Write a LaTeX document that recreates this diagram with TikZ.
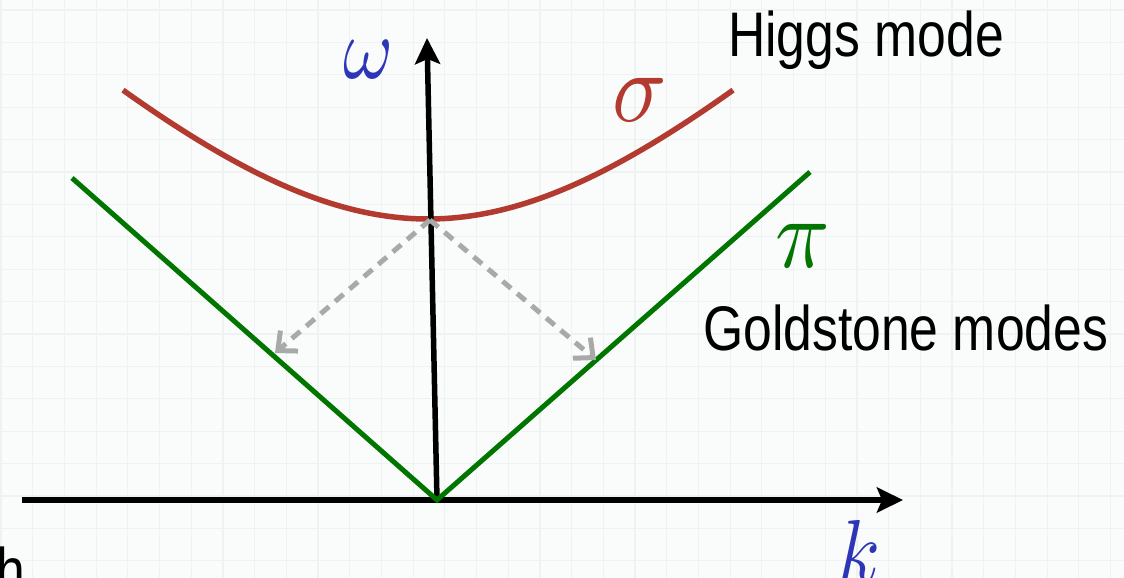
\documentclass[tikz,border=0pt]{standalone}
\usepackage{graphicx}
\usepackage{fontspec}
\setmainfont{Liberation Sans}
\usetikzlibrary{arrows.meta}
\definecolor{HiggsRed}{HTML}{B23A2F}
\definecolor{GoldGreen}{HTML}{007600}
\definecolor{AxisBlue}{HTML}{2E36B8}
\definecolor{DecayGray}{HTML}{A9A9A9}
\definecolor{Paper}{HTML}{FAFBFB}
\definecolor{GridTint}{HTML}{EEF2F3}
\newcommand{\squeeze}[3]{\scalebox{#1}[#2]{#3}}

\begin{document}
\begin{tikzpicture}[
  x=1pt,y=-1pt,
  gridline/.style={draw=GridTint,line width=1.2pt},
  axis/.style={draw=black,line width=5.5pt,-{Stealth[length=26pt,width=25pt,inset=5pt]}},
  higgs/.style={draw=HiggsRed,line width=5.5pt},
  gold/.style={draw=GoldGreen,line width=5pt},
  decay/.style={draw=DecayGray,line width=5pt,dash pattern=on 11pt off 8pt,
                -{Straight Barb[length=15pt,width=27pt]}},
  word/.style={inner sep=0pt,font=\fontsize{63}{70}\selectfont},
  sym/.style={inner sep=0pt,text=AxisBlue},
]
\fill[Paper] (0,0) rectangle (1124,578);
\useasboundingbox (0,0) rectangle (1124,578);
% faint slide grid
\foreach \i in {0,...,35}
  \draw[gridline] ({1+31.7*\i},0) -- ({1+31.7*\i},578);
\foreach \j in {0,...,17}
  \draw[gridline] (0,{10+32.4*\j}) -- (1124,{10+32.4*\j});

\coordinate (O) at (437,500);
\coordinate (wtop) at (427,38);
\coordinate (kl) at (22,500);
\coordinate (kr) at (903,500);
\coordinate (gl) at (72,178);
\coordinate (gr) at (810,172);
\coordinate (hmin) at (430,220);
\coordinate (al) at (275,353);
\coordinate (ar) at (596,360);

% massive mode
\draw[higgs] plot[domain=-305:305,samples=90]
  ({428+\x},{500-100*sqrt(0.957*(\x/100)^2+2.81^2)});
\draw[axis] (kl) -- (kr);
\draw[axis] (O) -- (wtop);
% massless modes
\draw[gold] (gl) -- (O) -- (gr);
\draw[decay] (hmin) -- (al);
\draw[decay] (hmin) -- (ar);

\node[sym] (w) at (369,60) {\squeeze{7.6}{8.8}{$\omega$}};
\node[sym,anchor=base] (k) at (859,581) {\squeeze{7.6}{8.8}{$k$}};
\node[sym,text=HiggsRed] (sig) at (640,100) {\squeeze{9}{10}{$\sigma$}};
\node[sym,text=GoldGreen] (pi) at (803,246) {\squeeze{9}{10}{$\pi$}};
\node[word,anchor=base west] (higgs) at (728,57) {\squeeze{.82}{1}{Higgs mode}};
\node[word,anchor=base west] (gold) at (703,350) {\squeeze{.82}{1}{Goldstone modes}};
\node[word,anchor=base west] (h) at (-4,592) {\squeeze{.82}{1}{h}};
\end{tikzpicture}
\end{document}
